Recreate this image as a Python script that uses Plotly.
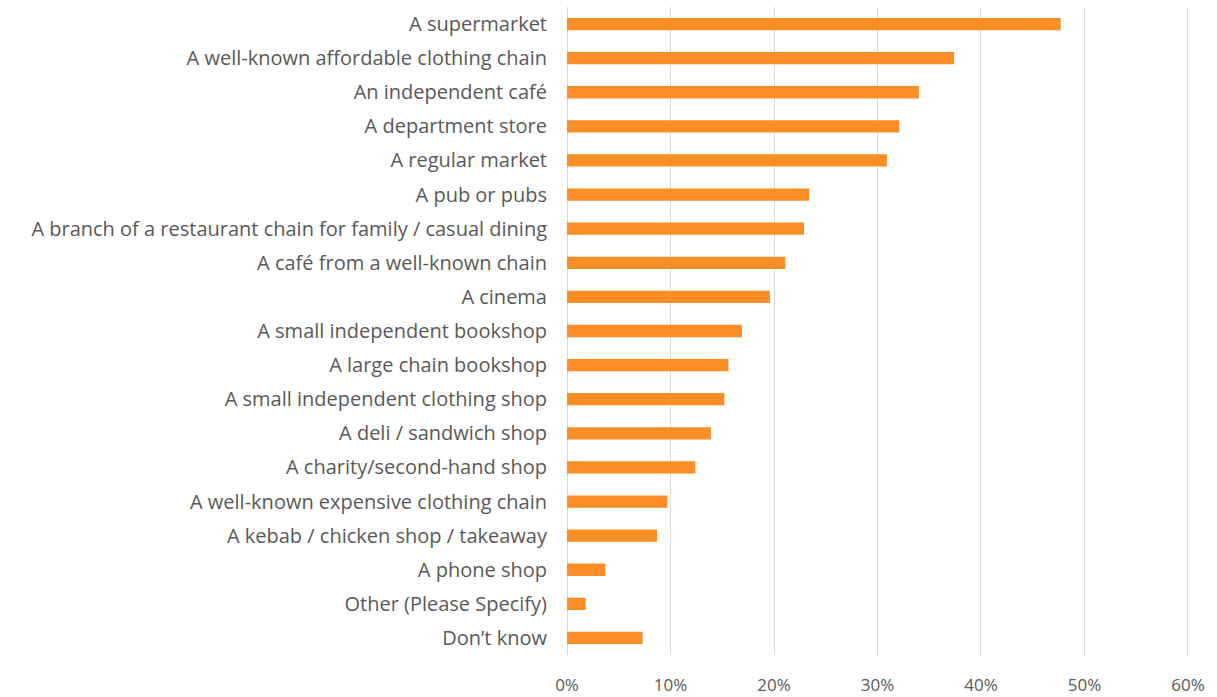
import plotly.graph_objects as go

categories = [
    "A supermarket",
    "A well-known affordable clothing chain",
    "An independent café",
    "A department store",
    "A regular market",
    "A pub or pubs",
    "A branch of a restaurant chain for family / casual dining",
    "A café from a well-known chain",
    "A cinema",
    "A small independent bookshop",
    "A large chain bookshop",
    "A small independent clothing shop",
    "A deli / sandwich shop",
    "A charity/second-hand shop",
    "A well-known expensive clothing chain",
    "A kebab / chicken shop / takeaway",
    "A phone shop",
    "Other (Please Specify)",
    "Don\u2019t know",
]
values = [0.477, 0.374, 0.340, 0.321, 0.309, 0.234, 0.229, 0.211, 0.196,
          0.169, 0.156, 0.152, 0.139, 0.124, 0.097, 0.087, 0.037, 0.018, 0.073]
x_ticks = [0, 0.1, 0.2, 0.3, 0.4, 0.5, 0.6]
x_tick_labels = ["0%", "10%", "20%", "30%", "40%", "50%", "60%"]

fig = go.Figure(go.Bar(
    x=values, y=categories, orientation="h",
    marker=dict(color="#F98E26", line=dict(width=0)),
    width=0.36,
))

fig.update_layout(
    width=1217, height=697,
    margin=dict(l=566, r=28, t=7, b=42),
    paper_bgcolor="white", plot_bgcolor="white",
    showlegend=False,
    font=dict(family="Open Sans", size=20, color="#595959"),
)
fig.update_xaxes(
    range=[-0.001, 0.601], tickvals=x_ticks, ticktext=x_tick_labels,
    showgrid=True, gridcolor="#D9D9D9", gridwidth=1,
    zeroline=False, showline=False, ticks="",
    ticklabelstandoff=18, automargin=False,
    tickfont=dict(size=17, color="#595959"),
)
fig.update_yaxes(
    categoryorder="array", categoryarray=categories, autorange="reversed",
    showgrid=False, zeroline=False, showline=False, ticks="",
    ticklabelstandoff=18, automargin=False,
    tickfont=dict(size=20, color="#595959"),
)

fig.write_html("out.html")
